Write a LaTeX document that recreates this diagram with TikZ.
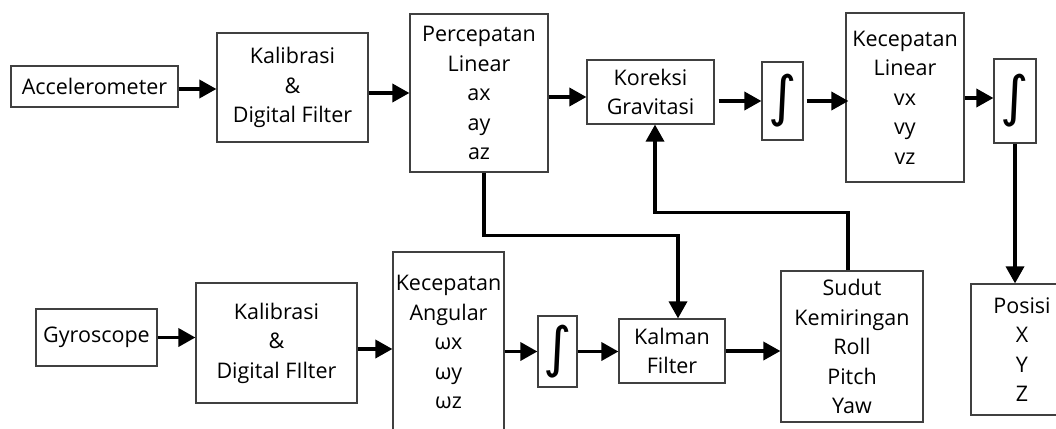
\documentclass[tikz,border=0pt]{standalone}
\usepackage{fontspec}
\setmainfont{Open Sans}
\newfontfamily\grk{Open Sans}
\newfontfamily\symf{DejaVu Sans}
\usetikzlibrary{arrows.meta,calc}
\newcommand{\integ}{\resizebox*{!}{53pt}{\symf ∫}}
\begin{document}
\begin{tikzpicture}[x=1pt,y=-1pt,
  box/.style={draw=black!75, line width=1.2pt, fill=white, inner sep=0pt, align=center,
    font=\fontsize{21.5}{29.5}\selectfont},
  arr/.style={line width=3.5pt, -{Triangle[length=17pt,width=18pt]}}
]
\clip (0,0) rectangle (1056,428);
\fill[white] (0,0) rectangle (1056,428);
% top row
\node[box, minimum width=167pt, minimum height=41pt] (acc) at (94.5,86.5) {Accelerometer};
\node[box, minimum width=151pt, minimum height=109pt] (kal1) at (292.5,87.5) {Kalibrasi\\\&\\Digital Filter};
\node[box, minimum width=138pt, minimum height=158pt] (perc) at (479,93) {Percepatan\\Linear\\ax\\ay\\az};
\node[box, minimum width=127pt, minimum height=64pt] (kor) at (650.5,92) {Koreksi\\Gravitasi};
\node[box, minimum width=41pt, minimum height=78pt] (int1) at (782.5,101) {\integ};
\node[box, minimum width=118pt, minimum height=169pt] (kvl) at (905,97.5) {Kecepatan\\Linear\\vx\\vy\\vz};
\node[box, minimum width=42pt, minimum height=84pt] (int2) at (1015,101) {\integ};
\node[box, minimum width=102pt, minimum height=131pt] (pos) at (1022,349.5) {Posisi\\X\\Y\\Z};
% bottom row
\node[box, minimum width=121pt, minimum height=57pt] (gyr) at (96.5,337.5) {Gyroscope};
\node[box, minimum width=161pt, minimum height=120pt] (kal2) at (276.5,343) {Kalibrasi\\\&\\Digital FIlter};
\node[box, minimum width=111pt, minimum height=180pt] (kang) at (448.5,342) {Kecepatan\\Angular\\{\grk ω}x\\{\grk ω}y\\{\grk ω}z};
\node[box, minimum width=39pt, minimum height=71pt] (int3) at (557.5,351.5) {\integ};
\node[box, minimum width=106pt, minimum height=64pt] (kal) at (672,351) {Kalman\\Filter};
\node[box, minimum width=142pt, minimum height=151pt] (sud) at (852,346.5) {Sudut\\Kemiringan\\Roll\\Pitch\\Yaw};
% connectors top
\draw[arr] ([yshift=-2.5pt]acc.east) -- ([yshift=-2.5pt]acc.east -| kal1.west);
\draw[arr] (kal1.east |- perc.west) -- (perc.west);
\draw[arr] ([yshift=-5pt]perc.east |- kor.west) -- ([yshift=-5pt]kor.west);
\draw[arr] ([xshift=4pt]kor.east |- int1.west) -- (int1.west);
\draw[arr] ([xshift=3pt]int1.east) -- ([xshift=3pt]int1.east -| kvl.west);
\draw[arr] ([yshift=3pt]kvl.east |- int2.west) -- ([yshift=3pt]int2.west);
\draw[arr] (int2.south) -- (int2.south |- pos.north);
% connectors bottom
\draw[arr] (gyr.east) -- (gyr.east -| kal2.west);
\draw[arr] ([yshift=-6pt]kal2.east) -- ([yshift=-6pt]kal2.east -| kang.west);
\draw[arr] (kang.east |- int3.west) -- (int3.west);
\draw[arr] (int3.east) -- (int3.east -| kal.west);
\draw[arr] (kal.east) -- (kal.east -| sud.west);
% cross links
\draw[arr] ([xshift=5pt]perc.south) -- ++(0,63) -| ([xshift=6pt]kal.north);
\draw[arr] ([xshift=-4pt]sud.north) -- ++(0,-58) -| ([xshift=4.5pt]kor.south);
\end{tikzpicture}
\end{document}
